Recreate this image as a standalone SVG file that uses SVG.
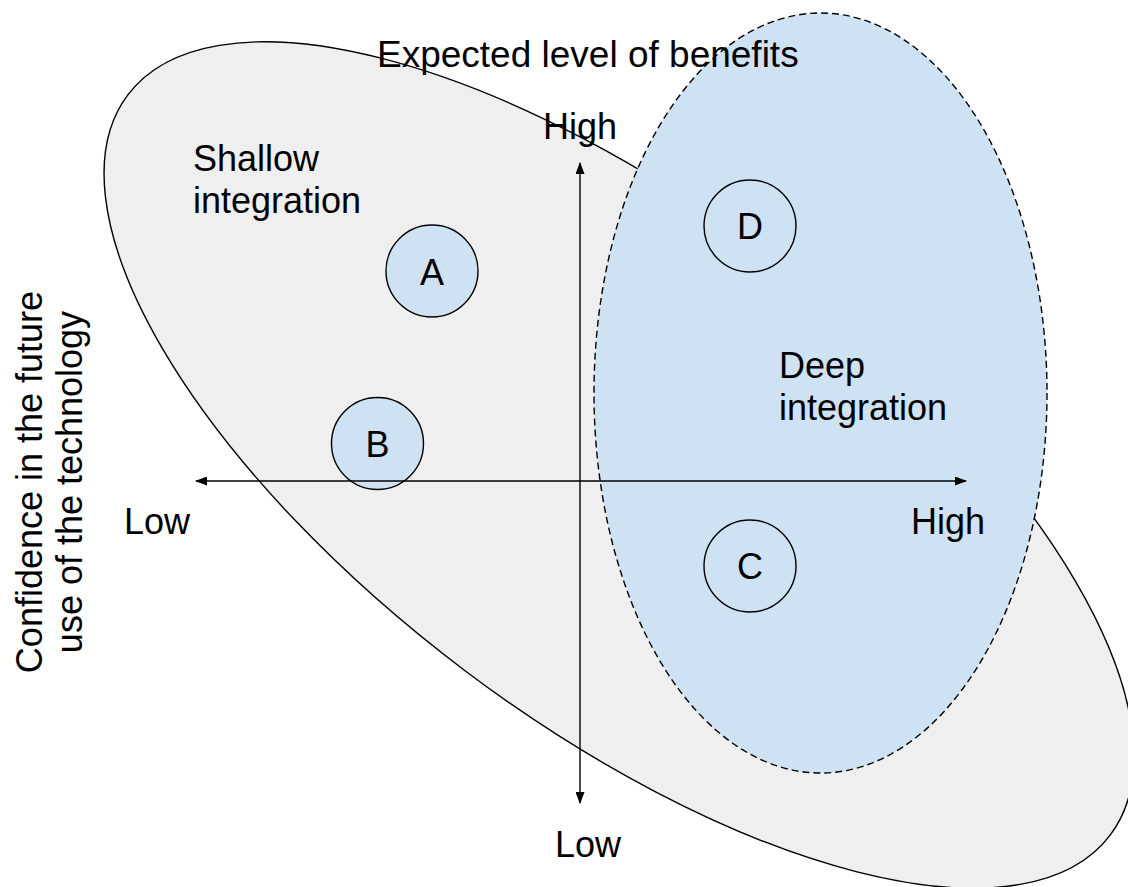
<svg xmlns="http://www.w3.org/2000/svg" width="1128" height="887" viewBox="0 0 1128 887">
  <style>
    text { font-family: "Liberation Sans", Arial, sans-serif; font-size: 36px; fill: #000; }
    .mid { text-anchor: middle; }
    .node { fill: #cfe2f3; stroke: #000; stroke-width: 1.4; }
    .axis { stroke: #000; stroke-width: 1.4; fill: none; }
  </style>
  <defs>
    <marker id="arr" viewBox="0 0 12 9" refX="11" refY="4.5" markerWidth="12" markerHeight="9" markerUnits="userSpaceOnUse" orient="auto">
      <path d="M0,0 L12,4.5 L0,9 Z" fill="#000"/>
    </marker>
  </defs>

  <g id="shallow-region">
    <ellipse cx="619" cy="465" rx="615" ry="257" transform="rotate(37 619 465)" fill="#efefef" stroke="#000" stroke-width="1.4"/>
  </g>
  <g id="deep-region">
    <ellipse cx="820.5" cy="393" rx="226.5" ry="380" fill="#cfe2f3" stroke="#000" stroke-width="1.4" stroke-dasharray="7 4"/>
  </g>

  <g id="node-A">
    <circle class="node" cx="432" cy="271" r="46"/>
    <text class="mid" x="432" y="285">A</text>
  </g>
  <g id="node-B">
    <circle class="node" cx="377.5" cy="443.5" r="46"/>
    <text class="mid" x="377.5" y="457">B</text>
  </g>
  <g id="node-C">
    <circle class="node" cx="750" cy="566" r="46"/>
    <text class="mid" x="750" y="579">C</text>
  </g>
  <g id="node-D">
    <circle class="node" cx="750" cy="226" r="46"/>
    <text class="mid" x="750" y="239">D</text>
  </g>

  <g id="connectors">
    <line class="axis" x1="580" y1="481" x2="196" y2="481" marker-end="url(#arr)"/>
    <line class="axis" x1="580" y1="481" x2="966" y2="481" marker-end="url(#arr)"/>
    <line class="axis" x1="580" y1="481" x2="580" y2="163" marker-end="url(#arr)"/>
    <line class="axis" x1="580" y1="481" x2="580" y2="803" marker-end="url(#arr)"/>
  </g>

  <g id="labels">
    <text x="377" y="67" style="font-size:37px">Expected level of benefits</text>
    <text class="mid" x="580" y="139">High</text>
    <text class="mid" x="588" y="857">Low</text>
    <text x="124" y="534">Low</text>
    <text x="911" y="534">High</text>
    <text x="193" y="171">Shallow</text>
    <text x="193" y="213">integration</text>
    <text x="779" y="378">Deep</text>
    <text x="779" y="420">integration</text>
    <g transform="translate(42 482) rotate(-90)">
      <text class="mid" x="0" y="0">Confidence in the future</text>
      <text class="mid" x="0" y="40">use of the technology</text>
    </g>
  </g>
</svg>
